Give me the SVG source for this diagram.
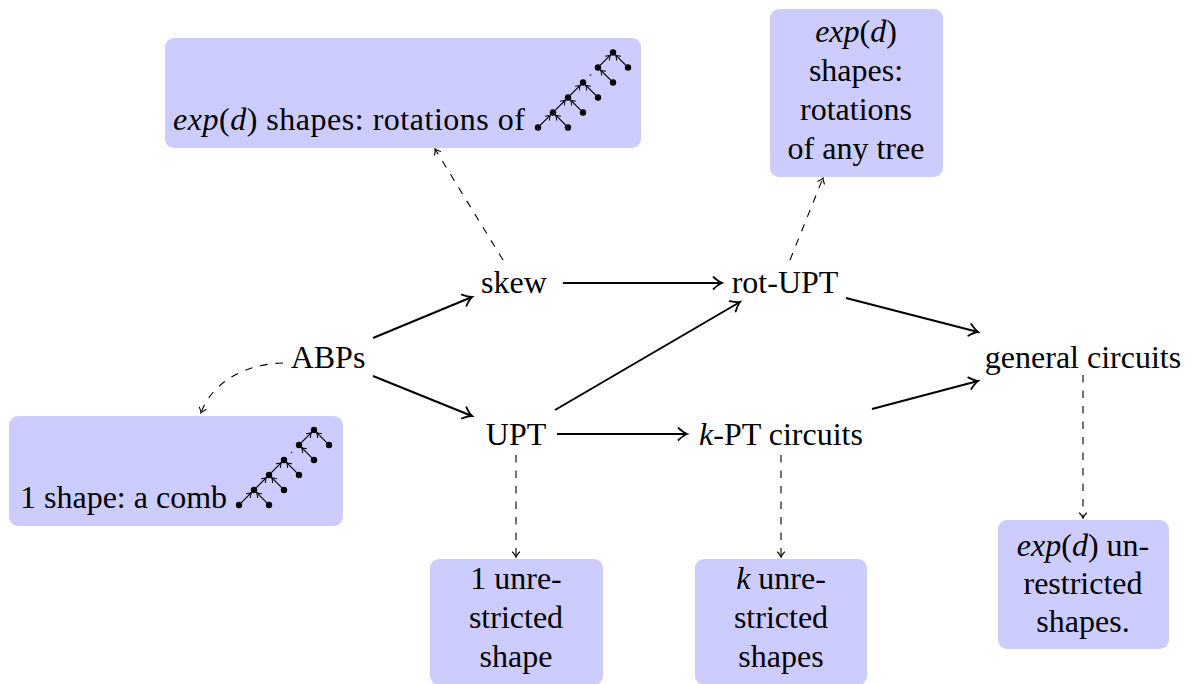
<svg xmlns="http://www.w3.org/2000/svg" width="1192" height="684" viewBox="0 0 1192 684">
<style>
text{font-size:32px;fill:#000}
.c{text-anchor:middle}
.m{font-style:italic}
.box{fill:#ccccff;stroke:none}
.solid{stroke:#000;stroke-width:2;fill:none;marker-end:url(#to)}
.dash{stroke:#000;stroke-width:1.1;fill:none;stroke-dasharray:7.5 8;marker-end:url(#tod)}
.te{stroke:#000;stroke-width:1.2;fill:none;marker-end:url(#tot)}
</style>
<defs>
<marker id="to" markerUnits="userSpaceOnUse" viewBox="-10 -7 12 14" refX="0" refY="0" markerWidth="12" markerHeight="14" orient="auto" overflow="visible">
<path d="M-8.5,-6 Q-3,-1 0,0 Q-3,1 -8.5,6" fill="none" stroke="#000" stroke-width="1.8" stroke-linecap="round"/>
</marker>
<marker id="tod" markerUnits="userSpaceOnUse" viewBox="-7 -5 9 10" refX="0" refY="0" markerWidth="9" markerHeight="10" orient="auto" overflow="visible">
<path d="M-5,-3.5 Q-2,-0.7 0,0 Q-2,0.7 -5,3.5" fill="none" stroke="#000" stroke-width="1.1" stroke-linecap="round"/>
</marker>
<marker id="tot" markerUnits="userSpaceOnUse" viewBox="-5 -4 6 8" refX="0" refY="0" markerWidth="6" markerHeight="8" orient="auto" overflow="visible">
<path d="M-4.4,-3 Q-1.5,-0.6 0,0 Q-1.5,0.6 -4.4,3" fill="none" stroke="#000" stroke-width="1"/>
</marker>
<g id="comb">
<path class="te" d="M2.3,-2.3 L12.3,-12.3"/>
<path class="te" d="M27.7,-2.3 L17.7,-12.3"/>
<path class="te" d="M17.3,-17.3 L27.3,-27.3"/>
<path class="te" d="M42.7,-17.3 L32.7,-27.3"/>
<path class="te" d="M32.3,-32.3 L42.3,-42.3"/>
<path class="te" d="M57.7,-32.3 L47.7,-42.3"/>
<path class="te" d="M72.7,-47.3 L62.7,-57.3"/>
<path class="te" d="M62.3,-62.3 L72.3,-72.3"/>
<path class="te" d="M87.7,-62.3 L77.7,-72.3"/>
<g fill="#000">
<circle cx="0" cy="0" r="3.2"/><circle cx="15" cy="-15" r="3.2"/><circle cx="30" cy="0" r="3.2"/>
<circle cx="30" cy="-30" r="3.2"/><circle cx="45" cy="-15" r="3.2"/><circle cx="45" cy="-45" r="3.2"/>
<circle cx="60" cy="-30" r="3.2"/><circle cx="60" cy="-60" r="3.2"/><circle cx="75" cy="-45" r="3.2"/>
<circle cx="75" cy="-75" r="3.2"/><circle cx="90" cy="-60" r="3.2"/>
<circle cx="52.5" cy="-52.5" r="0.8"/>
</g>
</g>
</defs>

<g id="connectors">
<path class="solid" d="M373,338 L472,297"/>
<path class="solid" d="M373,376 L472,416"/>
<path class="solid" d="M563,283 L722,283"/>
<path class="solid" d="M555,410 L740,302"/>
<path class="solid" d="M557,434 L687,434"/>
<path class="solid" d="M846,298 L978,332"/>
<path class="solid" d="M872,409 L978,381"/>
<path class="dash" d="M503,260 L435,149"/>
<path class="dash" d="M790,260 L823,178"/>
<path class="dash" d="M283,363 C243,364 211,384 201,413"/>
<path class="dash" d="M516,455 L516,557"/>
<path class="dash" d="M781,455 L781,557"/>
<path class="dash" d="M1083,375 L1083,518"/>
</g>

<g font-family="Liberation Serif, serif">
<g id="node-skew"><text class="c" x="514" y="293">skew</text></g>
<g id="node-rotupt"><text class="c" x="785" y="293">rot-UPT</text></g>
<g id="node-abps"><text class="c" x="328" y="368">ABPs</text></g>
<g id="node-general"><text class="c" x="1083" y="368">general circuits</text></g>
<g id="node-upt"><text class="c" x="516" y="445">UPT</text></g>
<g id="node-kpt"><text class="c" x="781" y="445"><tspan class="m">k</tspan>-PT circuits</text></g>

<g id="box-skew-shapes">
<rect class="box" x="165" y="38" width="476" height="110" rx="9"/>
<text x="173" y="130" textLength="352"><tspan class="m">exp</tspan>(<tspan class="m">d</tspan>) shapes: rotations of</text>
<use href="#comb" transform="translate(538,127.5)"/>
</g>

<g id="box-rot-shapes">
<rect class="box" x="770" y="9" width="173" height="168" rx="9"/>
<text class="c" x="856" y="42"><tspan class="m">exp</tspan>(<tspan class="m">d</tspan>)</text>
<text class="c" x="856" y="81">shapes:</text>
<text class="c" x="856" y="120">rotations</text>
<text class="c" x="856" y="159">of any tree</text>
</g>

<g id="box-abp-shapes">
<rect class="box" x="9" y="416" width="334" height="110" rx="9"/>
<text x="20" y="508">1 shape: a comb</text>
<use href="#comb" transform="translate(239,505)"/>
</g>

<g id="box-upt-shapes">
<rect class="box" x="430" y="559" width="173" height="126" rx="9"/>
<text class="c" x="516" y="589">1 unre-</text>
<text class="c" x="516" y="628">stricted</text>
<text class="c" x="516" y="667">shape</text>
</g>

<g id="box-kpt-shapes">
<rect class="box" x="695" y="559" width="172" height="126" rx="9"/>
<text class="c" x="781" y="589"><tspan class="m">k</tspan> unre-</text>
<text class="c" x="781" y="628">stricted</text>
<text class="c" x="781" y="667">shapes</text>
</g>

<g id="box-general-shapes">
<rect class="box" x="998" y="520" width="171" height="129" rx="9"/>
<text class="c" x="1083" y="556"><tspan class="m">exp</tspan>(<tspan class="m">d</tspan>) un-</text>
<text class="c" x="1083" y="594">restricted</text>
<text class="c" x="1083" y="632">shapes.</text>
</g>
</g>
</svg>
